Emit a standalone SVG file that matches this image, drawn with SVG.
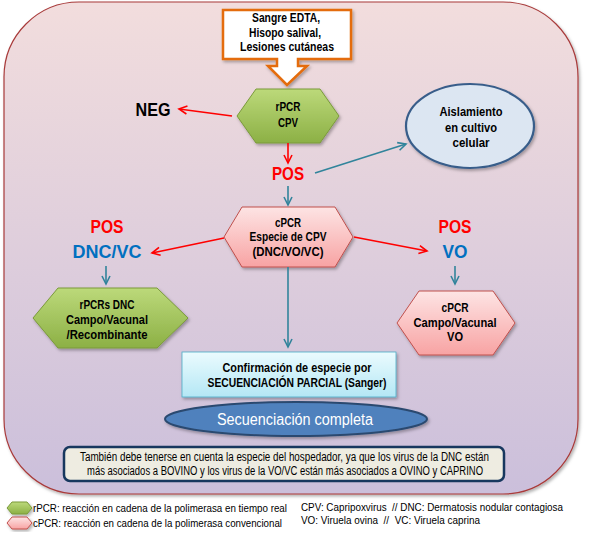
<svg xmlns="http://www.w3.org/2000/svg" width="599" height="536" viewBox="0 0 599 536">
<defs>
<linearGradient id="bg" x1="0" y1="0" x2="0" y2="1"><stop offset="0" stop-color="#f2dddd"/><stop offset="1" stop-color="#cbbfdb"/></linearGradient>
<linearGradient id="gr" x1="0" y1="0" x2="0" y2="1"><stop offset="0" stop-color="#bcd97a"/><stop offset="1" stop-color="#8cb045"/></linearGradient>
<linearGradient id="pk" x1="0" y1="0" x2="0" y2="1"><stop offset="0" stop-color="#fde4e4"/><stop offset="1" stop-color="#f8a3a3"/></linearGradient>
<linearGradient id="cy" x1="0" y1="0" x2="0" y2="1"><stop offset="0" stop-color="#ebfbfe"/><stop offset="1" stop-color="#b4e7f5"/></linearGradient>
<filter id="sh" x="-10%" y="-10%" width="130%" height="130%"><feDropShadow dx="1.5" dy="2" stdDeviation="1.5" flood-color="#000" flood-opacity="0.3"/></filter>
<marker id="ar" markerUnits="userSpaceOnUse" markerWidth="12" markerHeight="12" refX="9" refY="5" orient="auto"><path d="M1,1 L9,5 L1,9" fill="none" stroke="#ff0000" stroke-width="1.6"/></marker>
<marker id="at" markerUnits="userSpaceOnUse" markerWidth="12" markerHeight="12" refX="9" refY="5" orient="auto"><path d="M1,1 L9,5 L1,9" fill="none" stroke="#31849b" stroke-width="1.6"/></marker>
<style>
text{font-family:"Liberation Sans",Arial,sans-serif;text-anchor:middle;}
.b{font-weight:bold;font-size:12px;fill:#000;}
.big{font-weight:bold;font-size:19px;}
.red{fill:#ff0000;}
.blue{fill:#0070c0;}
.n{font-size:12px;fill:#000;}
.l{font-size:10.5px;fill:#000;text-anchor:start;}
.rl{stroke:#ff0000;stroke-width:1.6;fill:none;marker-end:url(#ar);}
.tl{stroke:#31849b;stroke-width:1.6;fill:none;marker-end:url(#at);}
.ghex{fill:url(#gr);stroke:#7a9a3a;stroke-width:1;}
.phex{fill:url(#pk);stroke:#c0504d;stroke-width:1;}
</style>
</defs>

<g id="background">
<rect x="4" y="2" width="574" height="492" rx="75" ry="75" fill="url(#bg)" stroke="#a83a3a" stroke-width="1.2" filter="url(#sh)"/>
</g>

<g id="muestras">
<path d="M223,10 H351 V59 H298 V66 H307 L287,85 L268,66 H277 V59 H223 Z" fill="#fff" stroke="#e46c0a" stroke-width="2.5" stroke-linejoin="miter" filter="url(#sh)"/>
<text class="b" x="286" y="22" textLength="68" lengthAdjust="spacingAndGlyphs">Sangre EDTA,</text>
<text class="b" x="285" y="37" textLength="72" lengthAdjust="spacingAndGlyphs">Hisopo salival,</text>
<text class="b" x="287" y="51" textLength="94" lengthAdjust="spacingAndGlyphs">Lesiones cutáneas</text>
</g>

<g id="rpcr-cpv">
<polygon class="ghex" points="237,116 256,89 320,89 339,116 320,143 256,143" filter="url(#sh)"/>
<text class="b" x="288" y="111" textLength="25" lengthAdjust="spacingAndGlyphs">rPCR</text>
<text class="b" x="288" y="127" textLength="20" lengthAdjust="spacingAndGlyphs">CPV</text>
</g>

<g id="neg"><text class="big" x="153" y="116" textLength="35" lengthAdjust="spacingAndGlyphs">NEG</text></g>
<g id="pos1"><text class="big red" x="288" y="180" textLength="32" lengthAdjust="spacingAndGlyphs">POS</text></g>

<g id="aislamiento">
<ellipse cx="470" cy="126" rx="64" ry="42" fill="#dce6f2" stroke="#385d8a" stroke-width="2.2" filter="url(#sh)"/>
<text class="b" x="471" y="116" textLength="63" lengthAdjust="spacingAndGlyphs">Aislamiento</text>
<text class="b" x="471" y="132" textLength="52" lengthAdjust="spacingAndGlyphs">en cultivo</text>
<text class="b" x="471" y="147" textLength="37" lengthAdjust="spacingAndGlyphs">celular</text>
</g>

<g id="cpcr-especie">
<polygon class="phex" points="224,237 242,207 335,207 353,237 335,267 242,267" filter="url(#sh)"/>
<text class="b" x="288" y="227" textLength="26" lengthAdjust="spacingAndGlyphs">cPCR</text>
<text class="b" x="288" y="241" textLength="77" lengthAdjust="spacingAndGlyphs">Especie de CPV</text>
<text class="b" x="288" y="256" textLength="71" lengthAdjust="spacingAndGlyphs">(DNC/VO/VC)</text>
</g>

<g id="pos-dnc">
<text class="big red" x="107" y="233" textLength="33" lengthAdjust="spacingAndGlyphs">POS</text>
<text class="big blue" x="107" y="258" textLength="69" lengthAdjust="spacingAndGlyphs">DNC/VC</text>
</g>

<g id="pos-vo">
<text class="big red" x="455" y="233" textLength="33" lengthAdjust="spacingAndGlyphs">POS</text>
<text class="big blue" x="455" y="258" textLength="25" lengthAdjust="spacingAndGlyphs">VO</text>
</g>

<g id="rpcrs-dnc">
<polygon class="ghex" points="33,318 58,288 157,288 188,318 157,348 58,348" filter="url(#sh)"/>
<text class="b" x="107" y="309" textLength="55" lengthAdjust="spacingAndGlyphs">rPCRs DNC</text>
<text class="b" x="107" y="324" textLength="82" lengthAdjust="spacingAndGlyphs">Campo/Vacunal</text>
<text class="b" x="107" y="339" textLength="81" lengthAdjust="spacingAndGlyphs">/Recombinante</text>
</g>

<g id="cpcr-vo">
<polygon class="phex" points="397,323 419,291 493,291 515,323 493,355 419,355" filter="url(#sh)"/>
<text class="b" x="455" y="312" textLength="27" lengthAdjust="spacingAndGlyphs">cPCR</text>
<text class="b" x="455" y="327" textLength="83" lengthAdjust="spacingAndGlyphs">Campo/Vacunal</text>
<text class="b" x="455" y="341" textLength="16" lengthAdjust="spacingAndGlyphs">VO</text>
</g>

<g id="confirmacion">
<rect x="182" y="352" width="214" height="45" fill="url(#cy)" stroke="#4bacc6" stroke-width="0.8" filter="url(#sh)"/>
<text class="b" x="297" y="372" textLength="149" lengthAdjust="spacingAndGlyphs">Confirmación de especie por</text>
<text class="b" x="297" y="387" textLength="179" lengthAdjust="spacingAndGlyphs">SECUENCIACIÓN PARCIAL (Sanger)</text>
</g>

<g id="secuenciacion">
<ellipse cx="296" cy="419" rx="131" ry="17" fill="#4f81bd" stroke="#2c4a70" stroke-width="2" filter="url(#sh)"/>
<text x="295" y="425" font-size="16" fill="#fff" textLength="156" lengthAdjust="spacingAndGlyphs">Secuenciación completa</text>
</g>

<g id="nota">
<rect x="64" y="447" width="440" height="34" rx="6" ry="6" fill="#eeece1" stroke="#17375e" stroke-width="2.5"/>
<text class="n" x="284.5" y="461" textLength="409" lengthAdjust="spacingAndGlyphs">También debe tenerse en cuenta la especie del hospedador, ya que los virus de la DNC están</text>
<text class="n" x="285" y="475" textLength="396" lengthAdjust="spacingAndGlyphs">más asociados a BOVINO y los virus de la VO/VC están más asociados a OVINO y CAPRINO</text>
</g>

<g id="connectors">
<line class="rl" x1="232" y1="116" x2="179" y2="109"/>
<line class="rl" x1="288" y1="143" x2="288" y2="163"/>
<line class="tl" x1="315" y1="173" x2="406" y2="144"/>
<line class="tl" x1="288" y1="186" x2="288" y2="205"/>
<line class="rl" x1="224" y1="238" x2="152" y2="253"/>
<line class="rl" x1="354" y1="237" x2="427" y2="251"/>
<line class="tl" x1="106" y1="266" x2="106" y2="284"/>
<line class="tl" x1="455" y1="266" x2="455" y2="284"/>
<line class="tl" x1="288" y1="267" x2="288" y2="347"/>
</g>

<g id="leyenda">
<polygon class="ghex" points="7,508 12,502 27,502 32,508 27,514 12,514" filter="url(#sh)"/>
<polygon class="phex" points="7,523 12,517 27,517 32,523 27,529 12,529" filter="url(#sh)"/>
<text class="l" x="33" y="512" textLength="254" lengthAdjust="spacingAndGlyphs">rPCR: reacción en cadena de la polimerasa en tiempo real</text>
<text class="l" x="33" y="527" textLength="249" lengthAdjust="spacingAndGlyphs">cPCR: reacción en cadena de la polimerasa convencional</text>
<text class="l" x="301" y="511" textLength="262" lengthAdjust="spacingAndGlyphs" xml:space="preserve">CPV: Capripoxvirus  // DNC: Dermatosis nodular contagiosa</text>
<text class="l" x="301" y="524" textLength="179" lengthAdjust="spacingAndGlyphs" xml:space="preserve">VO: Viruela ovina  //  VC: Viruela caprina</text>
</g>
</svg>
